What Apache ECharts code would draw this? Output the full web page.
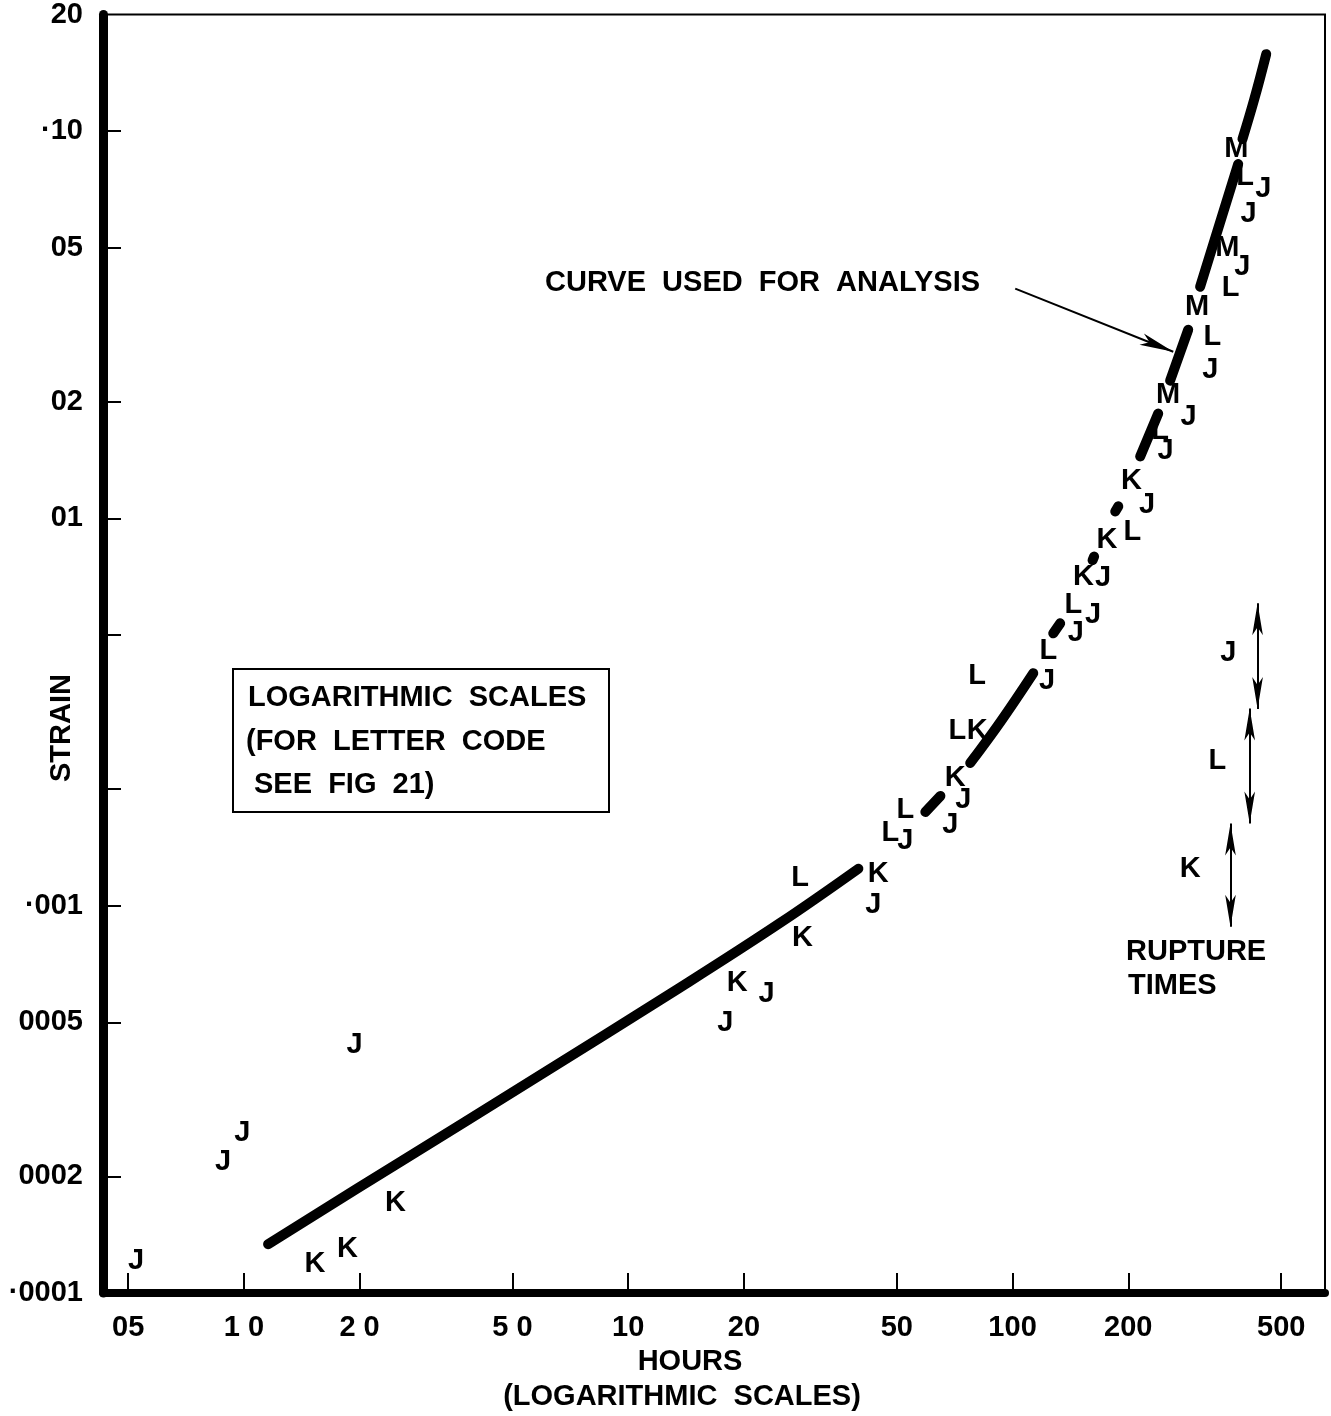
<!DOCTYPE html>
<html>
<head>
<meta charset="utf-8">
<script src="https://cdn.jsdelivr.net/npm/echarts@6/dist/echarts.min.js"></script>
<style>
  html, body { margin: 0; padding: 0; background: #fff; }
  #chart { width: 1331px; height: 1416px; }
</style>
</head>
<body>
<div id="chart"></div>
<script>
// Creep strain against time on logarithmic scales; letters are specimen codes.

// Axis ticks and their printed labels
const X_TICKS = [0.5, 1, 2, 5, 10, 20, 50, 100, 200, 500];
const X_TICK_LABELS = ['05', '1 0', '2 0', '5 0', '10', '20', '50', '100', '200', '500'];
const Y_TICKS = [0.0002, 0.0005, 0.001, 0.002, 0.005, 0.01, 0.02, 0.05, 0.1];
const Y_LABEL_VALUES = [0.0001, 0.0002, 0.0005, 0.001, 0.01, 0.02, 0.05, 0.1, 0.2];
const Y_TICK_LABELS = ['·0001', '0002', '0005', '·001', '01', '02', '05', '·10', '20'];

// Individual readings: [hours, strain]
const J_POINTS = [
  [0.524, 1.21e-4], [0.883, 2.18e-4], [0.99, 2.59e-4], [1.94, 4.38e-4],
  [17.9, 4.99e-4], [22.9, 5.93e-4], [43.4, 1.006e-3], [52.6, 1.47e-3],
  [68.9, 1.62e-3], [74.4, 1.88e-3], [123, 3.80e-3], [146, 5.05e-3],
  [162, 5.62e-3], [172, 7.01e-3], [224, 0.0108], [250, 0.0149],
  [287, 0.0183], [327, 0.0241], [396, 0.0446], [411, 0.0611], [449, 0.0709]
];
const K_POINTS = [
  [1.53, 1.19e-4], [1.86, 1.30e-4], [2.48, 1.71e-4], [19.2, 6.30e-4],
  [28.4, 8.27e-4], [44.7, 1.21e-3], [70.9, 2.14e-3], [80.9, 2.83e-3],
  [153, 7.05e-3], [176, 8.78e-3], [204, 0.0125]
];
const L_POINTS = [
  [28.0, 1.18e-3], [48.1, 1.54e-3], [52.6, 1.77e-3], [71.8, 2.83e-3],
  [80.9, 3.92e-3], [124, 4.54e-3], [144, 5.97e-3], [205, 9.20e-3],
  [242, 0.0168], [331, 0.0294], [369, 0.0394], [403, 0.0761]
];
const M_POINTS = [
  [254, 0.0208], [302, 0.0352], [362, 0.0499], [382, 0.0899]
];

// Curve used for analysis, drawn as broken pieces between the letters
const CURVE_SEGMENTS = [
  [[1.156, 1.337e-4], [2.55, 2.18e-4], [5.56, 3.52e-4], [13.65, 6.15e-4], [24.9, 9.04e-4], [39.7, 1.246e-3]],
  [[59.3, 1.746e-3], [64.9, 1.92e-3]],
  [[77.6, 2.336e-3], [92.9, 2.98e-3], [113.2, 3.985e-3]],
  [[127.6, 5.05e-3], [133, 5.36e-3]],
  [[161.5, 7.80e-3], [163, 7.97e-3]],
  [[185, 0.01042], [188.4, 0.01074]],
  [[214.8, 0.01445], [239.3, 0.01865]],
  [[257, 0.02268], [286.4, 0.0307]],
  [[307.6, 0.03963], [386.4, 0.0822]],
  [[396.5, 0.0954], [425.6, 0.121], [457, 0.158]]
];

// Pointer from the caption to the curve: [hours, strain] start and end
const POINTER = [[101.6, 0.0392], [261.9, 0.02694]];

// Rupture times: code, hours, strain range of the arrow, label position
const RUPTURE_CODES = ['J', 'L', 'K'];
const RUPTURE_HOURS = [434, 414, 369];
const RUPTURE_TOP = [0.00604, 0.00323, 0.00163];
const RUPTURE_BOTTOM = [0.00322, 0.00163, 0.000883];
const RUPTURE_LABEL_AT = [[364, 0.00449], [341, 0.00236], [290, 0.001246]];

const FONT = "'Liberation Sans', Arial, sans-serif";
const FS = 29;
const FW = 'bold';
const TEXT_FONT = FW + ' ' + FS + 'px ' + FONT;

function lookupLabel(values, labels, v) {
  for (let i = 0; i < values.length; i++) {
    if (Math.abs(Math.log10(values[i]) - Math.log10(v)) < 0.01) return labels[i];
  }
  return '';
}

const letterLabel = {
  show: true, position: 'inside',
  fontSize: FS, fontWeight: FW, fontFamily: FONT, color: '#000'
};

function letterSeries(code, pts) {
  return {
    type: 'scatter',
    name: code,
    data: pts,
    symbol: 'circle',
    symbolSize: 2,
    itemStyle: { color: 'rgba(0,0,0,0)', opacity: 1 },
    label: Object.assign({ formatter: code }, letterLabel),
    silent: true,
    z: 5
  };
}

const series = [];
CURVE_SEGMENTS.forEach(function (seg) {
  series.push({
    type: 'line',
    data: seg,
    showSymbol: false,
    symbol: 'none',
    smooth: seg.length > 2 ? 0.4 : false,
    lineStyle: { color: '#000', width: 10, cap: 'round', join: 'round' },
    silent: true,
    z: 3
  });
});
series.push(letterSeries('J', J_POINTS));
series.push(letterSeries('K', K_POINTS));
series.push(letterSeries('L', L_POINTS));
series.push(letterSeries('M', M_POINTS));

// caption pointer
series.push({
  type: 'lines',
  coordinateSystem: 'cartesian2d',
  data: [{ coords: POINTER }],
  symbol: ['none', 'arrow'],
  symbolSize: [[9, 34], [9, 34]],
  lineStyle: { color: '#000', width: 2, opacity: 1 },
  silent: true,
  z: 4
});

// rupture time arrows
series.push({
  type: 'lines',
  coordinateSystem: 'cartesian2d',
  data: RUPTURE_HOURS.map(function (h, i) {
    return { coords: [[h, RUPTURE_TOP[i]], [h, RUPTURE_BOTTOM[i]]] };
  }),
  symbol: ['arrow', 'arrow'],
  symbolSize: [[8, 32], [8, 32]],
  lineStyle: { color: '#000', width: 2, opacity: 1 },
  silent: true,
  z: 4
});
series.push({
  type: 'scatter',
  data: RUPTURE_LABEL_AT.map(function (p, i) { return { value: p, code: RUPTURE_CODES[i] }; }),
  symbolSize: 2,
  itemStyle: { color: 'rgba(0,0,0,0)', opacity: 1 },
  label: Object.assign({ formatter: function (p) { return p.data.code; } }, letterLabel),
  silent: true,
  z: 5
});

function caption(text, x, y, align, extra) {
  const el = {
    type: 'text', x: x, y: y,
    style: { text: text, font: TEXT_FONT, fill: '#000', textAlign: align, textVerticalAlign: 'middle' }
  };
  return Object.assign(el, extra || {});
}

const chart = echarts.init(document.getElementById('chart'), null, { renderer: 'canvas' });
chart.setOption({
  backgroundColor: '#fff',
  animation: false,
  grid: {
    left: 103, right: 6, top: 14, bottom: 123,
    show: true, borderColor: '#000', borderWidth: 2, backgroundColor: 'transparent'
  },
  xAxis: {
    type: 'log', logBase: 10, min: 0.43, max: 650,
    splitLine: { show: false },
    minorTick: { show: false },
    axisLine: { show: true, lineStyle: { color: '#000', width: 8 } },
    axisTick: { show: true, inside: true, length: 20, lineStyle: { color: '#000', width: 2 }, customValues: X_TICKS },
    axisLabel: {
      show: true, margin: 20, color: '#000', fontSize: FS, fontWeight: FW, fontFamily: FONT,
      customValues: X_TICKS,
      formatter: function (v) { return lookupLabel(X_TICKS, X_TICK_LABELS, v); }
    }
  },
  yAxis: {
    type: 'log', logBase: 10, min: 0.0001, max: 0.2,
    splitLine: { show: false },
    minorTick: { show: false },
    axisLine: { show: true, lineStyle: { color: '#000', width: 9 } },
    axisTick: { show: true, inside: true, length: 18, lineStyle: { color: '#000', width: 2 }, customValues: Y_TICKS },
    axisLabel: {
      show: true, margin: 20, color: '#000', fontSize: FS, fontWeight: FW, fontFamily: FONT,
      customValues: Y_LABEL_VALUES,
      formatter: function (v) { return lookupLabel(Y_LABEL_VALUES, Y_TICK_LABELS, v); }
    }
  },
  graphic: [
    caption('STRAIN', 62, 728, 'center', { rotation: Math.PI / 2 }),
    caption('HOURS', 690, 1362, 'center'),
    caption('(LOGARITHMIC  SCALES)', 682, 1397, 'center'),
    { type: 'rect', shape: { x: 233, y: 669, width: 376, height: 143 },
      style: { fill: 'none', stroke: '#000', lineWidth: 2 } },
    caption('LOGARITHMIC  SCALES', 248, 698, 'left'),
    caption('(FOR  LETTER  CODE', 246, 742, 'left'),
    caption('SEE  FIG  21)', 254, 785, 'left'),
    caption('CURVE  USED  FOR  ANALYSIS', 545, 283, 'left'),
    caption('RUPTURE', 1126, 952, 'left'),
    caption('TIMES', 1128, 986, 'left')
  ],
  series: series
});
</script>
</body>
</html>
